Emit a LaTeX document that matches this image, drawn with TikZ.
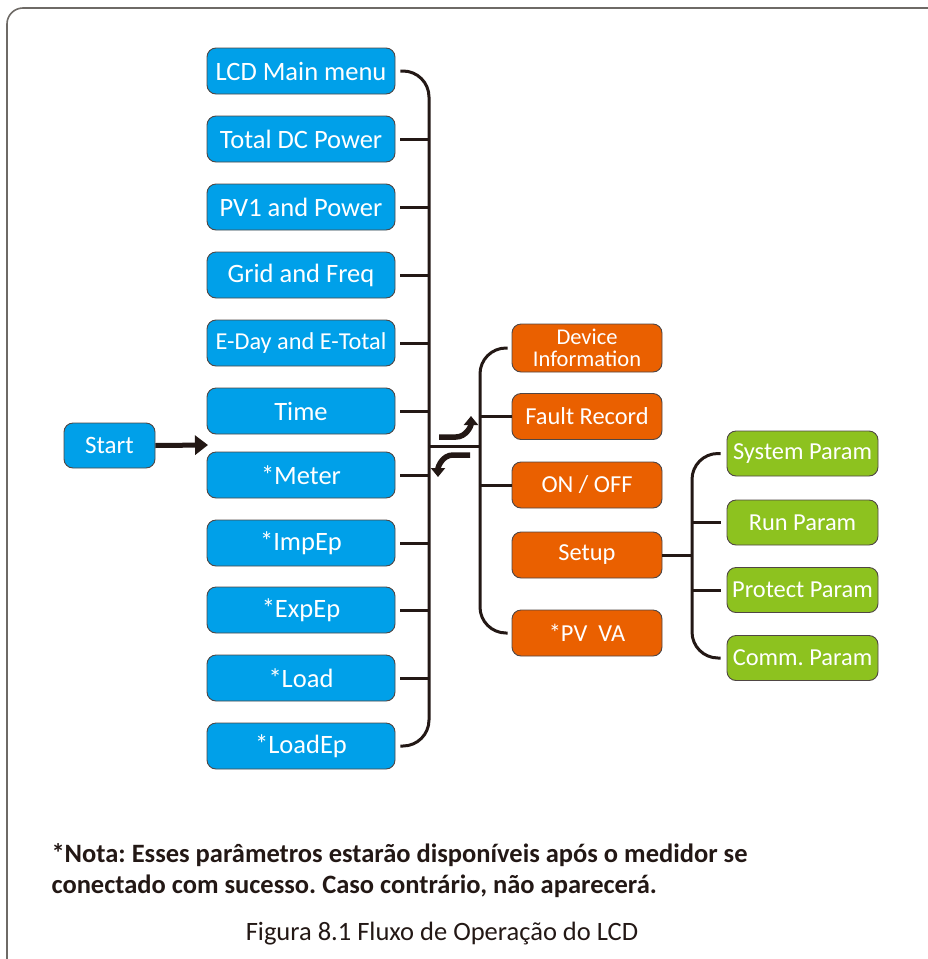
\documentclass[tikz,border=0pt]{standalone}
\usepackage{fontspec}
\setmainfont{Carlito}
\frenchspacing
\usetikzlibrary{arrows.meta}
\definecolor{cblue}{HTML}{00A0E9}
\definecolor{corange}{HTML}{EA6000}
\definecolor{cgreen}{HTML}{8DC21F}
\definecolor{cline}{HTML}{231815}
\definecolor{cframe}{HTML}{6E6A66}
\tikzset{
  box/.style={draw=cline!80, line width=0.9pt, rounded corners=9pt, text=white,
    font=\fontsize{26.5}{28}\selectfont, inner sep=0pt, align=center},
  bbox/.style={box, fill=cblue, minimum width=188pt, minimum height=46pt},
  obox/.style={box, fill=corange, minimum width=150pt, minimum height=46pt, font=\fontsize{24.4}{22}\selectfont},
  gbox/.style={box, fill=cgreen, minimum width=151pt, minimum height=45pt, font=\fontsize{24.4}{24}\selectfont},
  conn/.style={draw=cline, line width=3pt},
  fatarrow/.style={draw=cline, line width=5.5pt, -{Triangle[width=14pt,length=9pt]}},
}
\begin{document}
\begin{tikzpicture}[x=1pt,y=-1pt]
\useasboundingbox (0,0) rectangle (927,959);
\draw[cframe, line width=1.6pt, rounded corners=16pt] (7,990) -- (7,8) -- (960,8);

% blue column
\node[bbox] (lcd) at (301,71) {LCD Main menu};
\node[bbox] (tdc) at (301,139) {Total DC Power};
\node[bbox] (pv1) at (301,207) {PV1 and Power};
\node[bbox] (grid) at (301,275) {Grid and Freq};
\node[bbox, font=\fontsize{24.3}{26}\selectfont] (eday) at (301,343) {E-Day and E-Total};
\node[bbox] (time) at (301,411) {Time};
\node[bbox] (meter) at (301,475) {*Meter};
\node[bbox] (imp) at (301,543) {*ImpEp};
\node[bbox] (exp) at (301,610) {*ExpEp};
\node[bbox] (load) at (301,678) {*Load};
\node[bbox] (ldep) at (301,746) {*LoadEp};

\node[box, fill=cblue, minimum width=91pt, minimum height=45pt, font=\fontsize{25}{26}\selectfont] (start) at (109.5,445.5) {Start};
\coordinate (startend) at (208,445);
\draw[draw=cline, line width=5pt, -{Triangle[width=19pt,length=13pt]}] (start.east) -- (startend);

% blue bracket
\coordinate (bx) at (429,446);
\draw[conn, rounded corners=26pt] ([xshift=5pt]lcd.east) -| (bx |- ldep.east) -- ([xshift=5pt]ldep.east);
\foreach \n in {tdc,pv1,grid,eday,time,meter,imp,exp,load}
  \draw[conn] ([xshift=5pt]\n.east) -- (bx |- \n.east);

% orange column
\node[obox, minimum height=48pt, font=\fontsize{22.5}{22}\selectfont] (dev) at (587,348) {Device\\Information};
\node[obox] (fault) at (587,416.5) {Fault Record};
\node[obox] (onoff) at (587,485) {ON / OFF};
\node[obox] (setup) at (587,555) {Setup};
\node[obox] (pvva) at (587,633) {*PV\ \ VA};

\coordinate (ox) at (480,446);
\draw[conn] (bx) -- (ox);
\draw[conn, rounded corners=26pt] ([xshift=-4pt]dev.west) -| (ox |- pvva.west) -- ([xshift=-4pt]pvva.west);
\foreach \n in {fault,onoff}
  \draw[conn] (ox |- \n.west) -- (\n.west);

% green column
\node[gbox] (sys) at (802.5,453.5) {System Param};
\node[gbox] (run) at (802.5,522.5) {Run Param};
\node[gbox] (prot) at (802.5,590) {Protect Param};
\node[gbox] (comm) at (802.5,658) {Comm. Param};

\coordinate (gx) at (692,555);
\draw[conn] (setup.east) -- (gx);
\draw[conn, rounded corners=26pt] ([xshift=-6pt]sys.west) -| (gx |- comm.west) -- ([xshift=-6pt]comm.west);
\foreach \n in {run,prot}
  \draw[conn] (gx |- \n.west) -- ([xshift=-6pt]\n.west);

% direction arrows
\coordinate (ua) at (439,437);
\coordinate (ub) at (456,437);
\coordinate (uc) at (471,416);
\draw[fatarrow] (ua) -- (ub) to[out=0,in=-90] (uc);
\coordinate (da) at (470,455);
\coordinate (db) at (453,455);
\coordinate (dc) at (438,477);
\draw[fatarrow] (da) -- (db) to[out=180,in=90] (dc);

% note and caption
\node[anchor=west, font=\bfseries\fontsize{26.5}{31}\selectfont, text=cline, align=left] (note) at (48,871)
  {*Nota: Esses parâmetros estarão disponíveis após o medidor se\\conectado com sucesso. Caso contrário, não aparecerá.};
\node[font=\fontsize{26.5}{28}\selectfont, text=cline] (cap) at (442,934) {Figura 8.1 Fluxo de Operação do LCD};
\end{tikzpicture}
\end{document}
